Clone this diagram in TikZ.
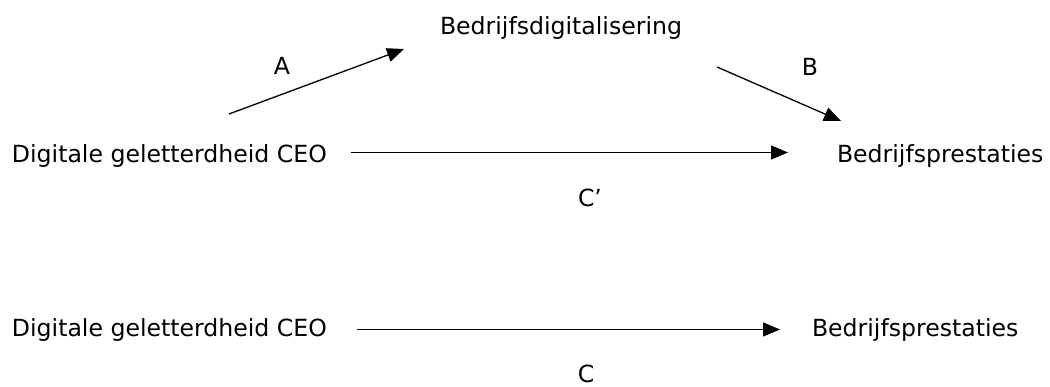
\documentclass[tikz,border=0pt]{standalone}
\usepackage{fontspec}
\setmainfont{DejaVu Sans}
\usetikzlibrary{arrows.meta}
\begin{document}
\begin{tikzpicture}[x=1pt,y=-1pt,
  lbl/.style={inner sep=0pt,outer sep=0pt,font=\fontsize{23.6}{28}\selectfont,text=black},
  arr/.style={line width=1.3pt,-{Triangle[length=17pt,width=14pt]}}]
\useasboundingbox (0,0) rectangle (1050,387);
% top model
\node[lbl,anchor=base west] (bd) at (440,35) {Bedrijfsdigitalisering};
\node[lbl,anchor=base west] (dgc1) at (12,163) {Digitale geletterdheid CEO};
\node[lbl,anchor=base west] (bp1) at (837,163) {Bedrijfsprestaties};
\node[lbl,anchor=base] (la) at (282,75) {A};
\node[lbl,anchor=base] (lb) at (810,76) {B};
\node[lbl,anchor=base] (lc1) at (590,207) {C’};
\coordinate (aS) at (229,114);
\coordinate (aE) at (404,49);
\coordinate (bS) at (717,67);
\coordinate (bE) at (841,121);
\draw[arr] (aS) -- (aE);
\draw[arr] (bS) -- (bE);
\draw[arr] ([xshift=24pt,yshift=4pt]dgc1.east) -- ([xshift=-49pt,yshift=4pt]bp1.west);
% bottom model
\node[lbl,anchor=base west] (dgc2) at (12,337) {Digitale geletterdheid CEO};
\node[lbl,anchor=base west] (bp2) at (812,337) {Bedrijfsprestaties};
\node[lbl,anchor=base] (lc2) at (586,382) {C};
\draw[arr] ([xshift=30pt,yshift=1pt]dgc2.east) -- ([xshift=-32pt,yshift=1pt]bp2.west);
\end{tikzpicture}
\end{document}
